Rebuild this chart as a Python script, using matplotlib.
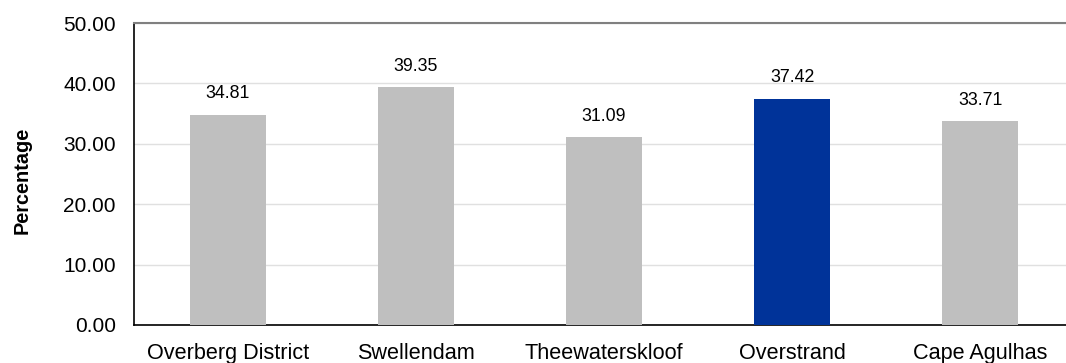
import matplotlib
matplotlib.use("Agg")
import matplotlib.pyplot as plt

categories = ["Overberg District", "Swellendam", "Theewaterskloof", "Overstrand", "Cape Agulhas"]
values = [34.81, 39.35, 31.09, 37.42, 33.71]
highlight = "Overstrand"
y_ticks = [0, 10, 20, 30, 40, 50]

plt.rcParams["font.family"] = ["Liberation Sans", "DejaVu Sans"]

fig = plt.figure(figsize=(10.66, 3.63), dpi=100)
ax = fig.add_axes([134 / 1066, 1 - 325 / 363, (1066 - 134) / 1066, (325 - 23) / 363])

colors = ["#003399" if c == highlight else "#BFBFBF" for c in categories]
x = range(len(categories))
bars = ax.bar(x, values, width=0.4, color=colors, zorder=3)

for xi, v in zip(x, values):
    ax.annotate(f"{v:.2f}", (xi, v), xytext=(0, 9), textcoords="offset points",
                ha="center", va="bottom", fontsize=12.8, color="#000000")

ax.set_xlim(-0.5, 4.457)
ax.set_ylim(0, 50)
ax.set_yticks(y_ticks)
ax.set_yticklabels([f"{t:.2f}" for t in y_ticks], fontsize=15)
ax.set_xticks(list(x))
ax.set_xticklabels(categories, fontsize=15.6)
ax.tick_params(axis="y", length=0, pad=13)
ax.tick_params(axis="x", length=0, pad=13)

ax.yaxis.grid(True, color="#E0E0E0", linewidth=1, zorder=0)
ax.set_axisbelow(True)

ax.spines["right"].set_visible(False)
ax.spines["top"].set_color("#808080")
ax.spines["top"].set_linewidth(1.5)
ax.spines["left"].set_color("#000000")
ax.spines["bottom"].set_color("#000000")
ax.spines["left"].set_linewidth(1.2)
ax.spines["bottom"].set_linewidth(1.2)

ax.set_ylabel("Percentage", fontsize=14.3, fontweight="bold")
ax.yaxis.set_label_coords(-102 / 932, 0.48)

fig.savefig("out.png", dpi=100)
